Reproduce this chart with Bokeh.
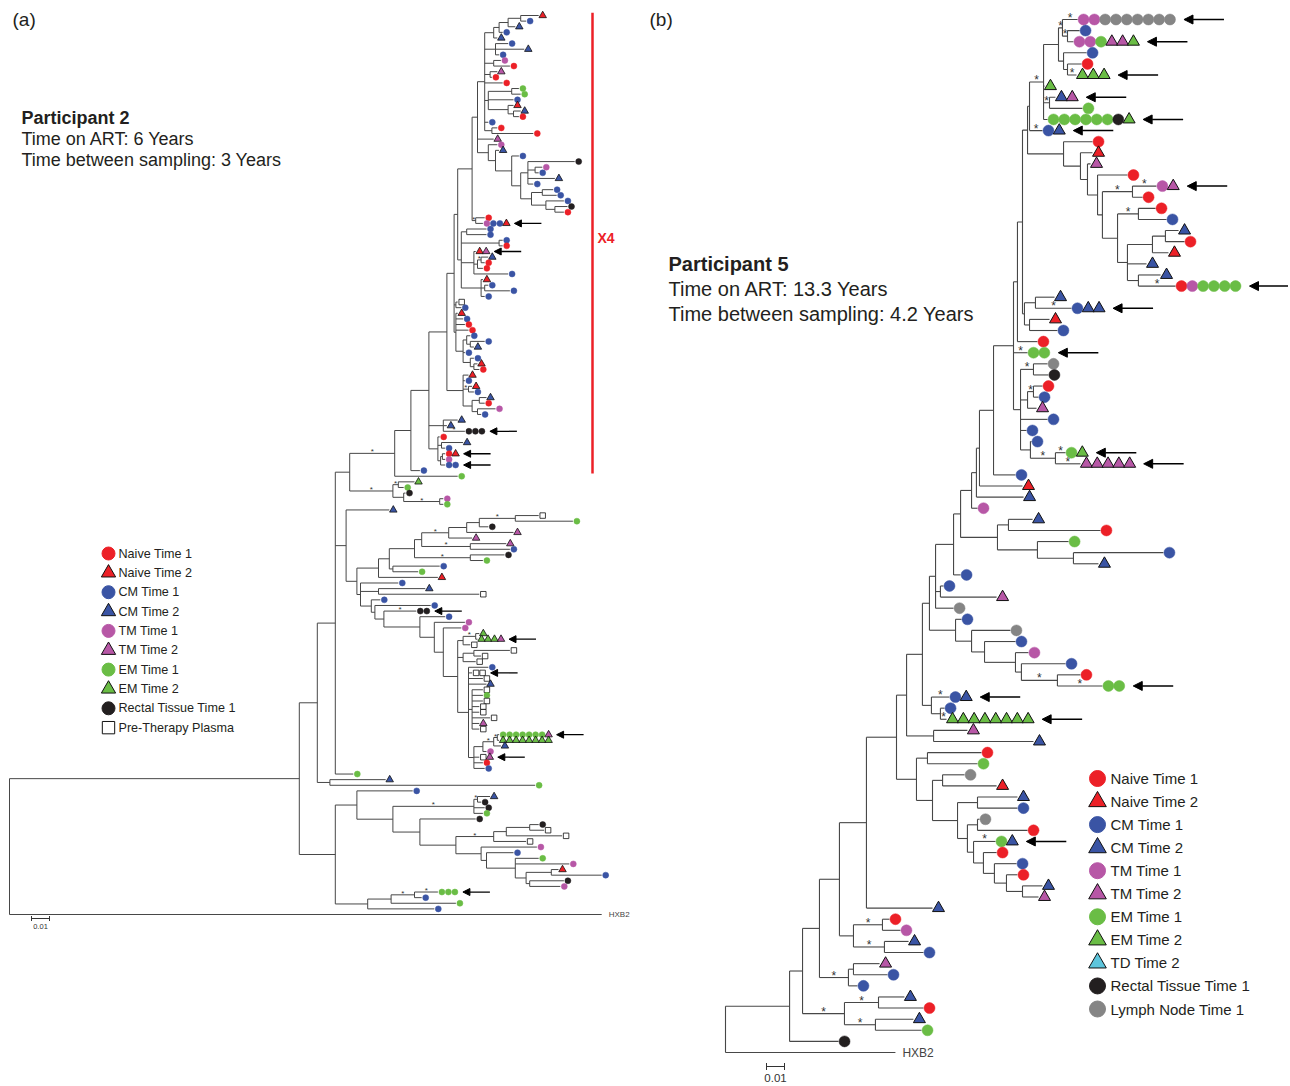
import re
from bokeh.plotting import figure
from bokeh.models import Range1d, Arrow, NormalHead, ColumnDataSource
from bokeh.layouts import row
from bokeh.embed import file_html
from bokeh.resources import INLINE
from bokeh.core.properties import value

FONT = "Liberation Sans"

# ------------------------------------------------------------------ data
CAT_CODES = ["N1", "N2", "C1", "C2", "T1", "T2", "E1", "E2", "D2", "R1", "L1", "P"]
CAT_NAMES = ["Naive Time 1", "Naive Time 2", "CM Time 1", "CM Time 2", "TM Time 1",
             "TM Time 2", "EM Time 1", "EM Time 2", "TD Time 2", "Rectal Tissue Time 1",
             "Lymph Node Time 1", "Pre-Therapy Plasma"]
LEGEND_A = ["N1", "N2", "C1", "C2", "T1", "T2", "E1", "E2", "R1", "P"]
LEGEND_B = ["N1", "N2", "C1", "C2", "T1", "T2", "E1", "E2", "D2", "R1", "L1"]
TITLE_A = ["Participant 2", "Time on ART: 6 Years", "Time between sampling: 3 Years"]
TITLE_B = ["Participant 5", "Time on ART: 13.3 Years", "Time between sampling: 4.2 Years"]
OUTGROUP = "HXB2"
SCALE_BAR = 0.01          # substitutions / site
X4_TIPS = (0, 81)         # first / last tip index of the X4 clade, panel (a)

# Trees: "(child,child):depth" ; tip "CODE[xN][+CODE..]:depth"
# depth = distance from root in 1e-3 substitutions/site ; * = support, ! = arrow
A_Q = ("((((N2:294,C1:287):284,C2:281):277,C1:274):272,C2:271):269,"
       "(C1:277,C2:286,C1:272):270,(T1:273,N1:278):269,(T2:271,N1:268):267,N1:274,"
       "((E1:283,E1:284):279,C1:280,(N2:280,(C2:284,N1:283):280):277):266,C1:266,"
       "(N1:271,N1:291):268")
A_R = ("(T1:271,(C2:272,(C1:283,((R1:314,(T1:296,C1:294):292,C2:303,C1:291):288,"
       "((C1:302,C1:304):296,(C1:308,(R1:310,N1:308):303):298):290):284):279):270):266")
A_470 = f"((({A_Q}):264,T2:269,{A_R}):260,(N1:264,T1+C1x2+N2:263!):259*):257"
A_462 = ("((C1:265,C1:265):254,(C1:274,N1:274):272,"
         "(N2+T2:259!,((C2:266,N1:264):262*,N1:263):260,C1:277):258,"
         "(N2:263,(C1:266,C1:278):264,C1:264):262):251")
A_454 = ("(N2:249,C1:252,N1:253,N1:255,((C1:256,(C1:264,C2:258):256):254,C1:253,"
         "(C1:258,(N2:260,N1:261):258):256):252):248")
A_452 = f"(({A_470},{A_462}):249,(P:249,C1:251):248,{A_454}):247"
A_446 = (f"({A_452},(N2:255,C1:253,(N2:257,C1:258):255*,"
         "((C2:265,N1:264):261,(T1:270,C1:262):260):257):252):243")
A_427 = (f"({A_446},(C2:249,C2:243,R1x3:253!*):241,"
         "(N1:239,(C2:252,C1:242):240,((N1+N2:242!,T1:242):240.5,C1x2:242!):239.5):238):233")
A_348 = (f"((({A_427},C1:228):223,E1:249):214*,"
         "((E2:225,E1:219):216*,(R1:220,(T1:241,E1:241):239*):219):213*):189")
A_477 = "((P:294,E1:313):281*,R1:266):261"
A_377 = (f"(((((({A_477},T2:280):254,T2:257):244*,(T2:276,C1:278):256*):229,"
         "(R1:275,E1:263):256*):225,(C1:239,E1:227):213):211,N2:238):205")
A_PLASMA = "(P:263,E1:263,P:263,P:261,P:261,P:267,T2:261,P:261):257"
A_EM = "((((E1x7+T2:272!,E2x8:272):271*,C2:273):269*,T1:265):263,P+T2:261!,N1:263,C1:264):258"
A_457 = (f"(((E2:261,E2x3+T2:260!):259*,P:256):252,((P:278,P:262):258,P:259):252,"
         f"(C1:266,Px2:257!,P:263,C2:265,{A_PLASMA},{A_EM}):255):249")
A_359 = (f"(C1:216,(C2:231,P:261):205,(C1:206,(C1:234,(R1x2:226!*,(C1:242,"
         f"(T1:253,(T1:251,{A_457}):241):236):228):208):203):201):195")
A_316 = f"(({A_348},(C2:211,({A_377},{A_359}):193):187,E1:191):181,(C2:209,E1:292):178):171"
A_T = ("(C1:224,(((C2:267,R1:262):260*,R1:264,E1:263):258*,(R1:259,"
       "((((R1:294,P:297):289,P:307):276,P:287):269*,(T1:293,(C1:280,(E1:294,T1:311,"
       "((N2:305,C1:329):301,(R1:308,T1:306):289):287):281):265):262):248):228):213):193")
A_U = "(((E1x3:238!*,C1:229):225*,E1:248):212,C1:236):199"
A_TREE = f"(({A_316},({A_T},{A_U}):181):161,HXB2:329):0"

B_1062 = "(T1x2+L1x7:195.6!*,(C1:196.7,T1x2+E1+T2x2+E2:193.3!):190*):187.2*"
B_1063A = "(C1:200.6,(N1:197.8,E2x3:195!*):190):187.8"
B_1043 = (f"(({B_1062},{B_1063A}):185,E2:177.2,(C2+T2:183.3!,E1:198.3):180*,"
          "E1x6+R1+E2:178.9!):176.7*")
B_1029 = f"({B_1043},C1+C2:176.1!*):168.9"
B_1117 = ("((N1:238.9,C1:245):229.4*,(((C2:251.7,N1:255):244.4,N2:246.1):237.2,C2:233.9,"
          "(C2:241.7,N1+T1+E1x4:250!*):229.4):223.3):217.8")
B_1063B = (f"(N1:203.9,(N2:203.9,(T2:202.8,(N1:223.3,((T1+T2:239.4!*,N1:231.7):226.1*,"
           f"{B_1117}):209.4):206.7):201.1):197.2):187.8")
B_1024 = "((C2:182.8,C1+C2x2:192.2!*):172.2,(N2:180,C1:184.4):168.9):166.1"
B_LOW = ("((L1:178.9,R1:179.4):171.1*,((N1:176.1,C1:173.9):171.1*,T2:172.8):167.8,"
         "C1:178.9,C1:167.2,(C1:170,(E1+E2:188.9!*,T2x5:197.2!*):183.3*):169.4):163.9")
B_1013 = f"(((({B_1029},{B_1063B}):167.8,{B_1024}):165,N1:173.3):162.2,E1x2:167.8!*,{B_LOW}):160"
B_997 = "((C2:170.6,N1:208.3):157.2,(E1:190.6,(C1:243.3,C2:207.2):193.3):173.3):151.1"
B_953 = (f"(((((({B_1013},C1:161.1):148.9,N2:165):141.1,C2:165.6):139.4,T1:140):136.7,"
         f"{B_997}):130.6,C1:130.6):126.7")
B_955 = ("(C1:131.1,(L1:158.3,(C1:161.1,(T1:168.3,(C1:188.9,(N1:197.2,E1x2:209.4!*)"
         ":184.4*):164.4):161.1):143.9):136.7):127.8")
B_929 = f"(({B_953},(C1:121.1,T2:150.6):119.4,L1:126.7):116.7,{B_955}):113.3"
B_931 = "(C1+C2:124.4!*,(C1:121.7,E2x8:122.8!*):119.4):114.4"
B_906 = f"(({B_929},{B_931}):109.4,(T2:134.4,C2:171.1):115.6):100.6"
B_916 = ("((N1:142.2,E1:140):112.2,((L1:132.8,N2:150.6):120.6,((C2:162.2,C1:162.2):140,"
         "((L1:141.1,N1:167.8):140,(E1+C2:150!*,(N1:150.6,(C1:161.7,(N1:162.2,"
         "(C2:176.1,T2:173.9):165):156.1):149.4):143.3):137.8):134.4):128.9):115):106.1")
B_839 = (f"((({B_906},{B_916}):95,C2:115):78.3,((N1:91.1,T1:97.2):87.2*,"
         "(C2:101.7,C1:110):88.3*):71.1):63.3")
B_TREE = (f"(((({B_839},((T2:85.6,C1:90):71.1,C1:73.3):68.3*):52.2,((C2:99.4,N1:110):85*,"
          "(C2:104.4,E1:108.9):83.3*):66.1*):42.8,R1:62.8):35.6,HXB2:94.4):0")

# ------------------------------------------------------------------ styles
COLOR = {"N1": "#ec2027", "N2": "#ec2027", "C1": "#3a54a4", "C2": "#3a54a4",
         "T1": "#b757a6", "T2": "#b757a6", "E1": "#6abd45", "E2": "#6abd45",
         "D2": "#5dc5dc", "R1": "#231f20", "L1": "#858585", "P": "#ffffff"}
SHAPE = {c: ("square" if c == "P" else "triangle" if c[1:] == "2" else "circle")
         for c in CAT_CODES}
PXU = 1800.0   # screen px per substitution/site (0.01 -> 18 px)
LINE = "#474747"

GA = dict(left=0, top=0, w=648, h=1084, root=9, tip0=15, tipN=914)
GB = dict(left=648, top=0, w=640, h=1084, root=725, tip0=19, tipN=1052)
STA = dict(gap=4, step=6.5, agap=8, alen=27, head=7, aw=1.3, circle=6, triangle=7.5,
           square=5.5, tlw=0.8, star="8px", stardy=-1.5, lw=1.0, out="8px")
STB = dict(gap=6, step=10.8, agap=14, alen=40, head=9, aw=1.5, circle=11, triangle=12,
           square=10, tlw=1.0, star="12px", stardy=-2, lw=1.1, out="12px")


def parse(s):
    s = re.sub(r"\s+", "", s)
    pos = [0]

    def node():
        if s[pos[0]] == "(":
            pos[0] += 1
            kids = [node()]
            while s[pos[0]] == ",":
                pos[0] += 1
                kids.append(node())
            if s[pos[0]] != ")":
                raise ValueError("bad tree at %d" % pos[0])
            pos[0] += 1
            label = None
        else:
            m = re.match(r"[A-Za-z0-9+]+", s[pos[0]:])
            label = m.group(0)
            pos[0] += len(label)
            kids = []
        if s[pos[0]] != ":":
            raise ValueError("missing depth at %d" % pos[0])
        pos[0] += 1
        m = re.match(r"[0-9.]+", s[pos[0]:])
        depth = float(m.group(0)) / 1000.0
        pos[0] += len(m.group(0))
        star = arrow = False
        while pos[0] < len(s) and s[pos[0]] in "*!":
            if s[pos[0]] == "*":
                star = True
            else:
                arrow = True
            pos[0] += 1
        return dict(kids=kids, label=label, depth=depth, star=star, arrow=arrow)

    tree = node()
    if pos[0] != len(s):
        raise ValueError("unparsed tree text from %d: %s" % (pos[0], s[pos[0]:pos[0] + 40]))
    return tree


def expand(label):
    out = []
    for part in label.split("+"):
        m = re.fullmatch(r"([A-Z]\d?)(?:x(\d+))?", part)
        out += [m.group(1)] * int(m.group(2) or 1)
    return out


def layout(tree):
    H = dict(x0=[], x1=[], y=[])
    V = dict(x=[], y0=[], y1=[])
    tips, stars = [], []

    def walk(n, pd):
        if n["kids"]:
            ys = [walk(k, n["depth"]) for k in n["kids"]]
            y = (ys[0] + ys[-1]) / 2.0
            V["x"].append(n["depth"]); V["y0"].append(ys[0]); V["y1"].append(ys[-1])
        else:
            y = float(len(tips))
            tips.append(n)
        n["y"] = y
        if pd is not None and n["depth"] > pd:
            H["x0"].append(pd); H["x1"].append(n["depth"]); H["y"].append(y)
        if n["star"] and pd is not None:
            stars.append(((pd + n["depth"]) / 2.0, y))
        return y

    walk(tree, None)
    return H, V, tips, stars


def panel(tree_str, g, st):
    tree = parse(tree_str)
    H, V, tips, stars = layout(tree)
    s = (g["tipN"] - g["tip0"]) / (len(tips) - 1)

    def X(px):
        return (px - g["root"]) / PXU

    def Y(py):
        return (py - g["tip0"]) / s

    p = figure(width=g["w"], height=g["h"], output_backend="svg", toolbar_location=None,
               x_range=Range1d(X(g["left"]), X(g["left"] + g["w"])),
               y_range=Range1d(Y(g["top"] + g["h"]), Y(g["top"])),
               x_axis_location=None, y_axis_location=None, min_border=0)
    p.grid.visible = False
    p.outline_line_color = None
    p.background_fill_color = "white"
    p.border_fill_color = "white"

    p.segment(x0=H["x0"], y0=H["y"], x1=H["x1"], y1=H["y"], line_color=LINE, line_width=st["lw"])
    p.segment(x0=V["x"], y0=V["y0"], x1=V["x"], y1=V["y1"], line_color=LINE, line_width=st["lw"])

    m = dict(x=[], y=[], marker=[], size=[], fill=[], line=[], lw=[])
    ar = dict(xs=[], xe=[], y=[])
    for t in tips:
        if t["label"] == OUTGROUP:
            p.text(x=[t["depth"] + 7 / PXU], y=[t["y"]], text=[OUTGROUP], text_font=value(FONT),
                   text_font_size=st["out"], text_baseline="middle", text_color="#444444")
            continue
        codes = expand(t["label"])
        for k, c in enumerate(codes):
            m["x"].append(t["depth"] + (st["gap"] + k * st["step"]) / PXU)
            m["y"].append(t["y"])
            shp = SHAPE[c]
            m["marker"].append(shp)
            m["size"].append(st[shp])
            m["fill"].append(COLOR[c])
            m["line"].append(COLOR[c] if shp == "circle" else "#111111")
            m["lw"].append(0.5 if shp == "circle" else st["tlw"])
        if t["arrow"]:
            xe = t["depth"] + (st["gap"] + (len(codes) - 1) * st["step"] + st["agap"]) / PXU
            ar["xe"].append(xe); ar["xs"].append(xe + st["alen"] / PXU); ar["y"].append(t["y"])
    p.scatter(x="x", y="y", marker="marker", size="size", fill_color="fill", line_color="line",
              line_width="lw", source=ColumnDataSource(m))
    p.add_layout(Arrow(x_start="xs", y_start="y", x_end="xe", y_end="y",
                       source=ColumnDataSource(ar), line_color="black", line_width=st["aw"],
                       end=NormalHead(size=st["head"], fill_color="black", line_color="black")))
    if stars:
        p.text(x=[a for a, b in stars], y=[b for a, b in stars], text=["*"] * len(stars),
               text_font=value(FONT), text_font_size=st["star"], text_align="center",
               text_baseline="middle", y_offset=st["stardy"], text_color="#333333")
    return p, X, Y, tips


def texts(p, X, Y, px, py, lines, size, step=0, bold=False, color="#231f20", align="left"):
    p.text(x=[X(px)] * len(lines), y=[Y(py + i * step) for i in range(len(lines))], text=lines,
           text_font=value(FONT), text_font_size=size, text_baseline="middle",
           text_align=align, text_color=color, text_font_style="bold" if bold else "normal")


def legend(p, X, Y, codes, mx, tx, y0, step, msize, fsize):
    d = dict(x=[], y=[], marker=[], size=[], fill=[], line=[])
    for i, c in enumerate(codes):
        shp = SHAPE[c]
        d["x"].append(X(mx)); d["y"].append(Y(y0 + i * step)); d["marker"].append(shp)
        d["size"].append(msize * (1.1 if shp == "triangle" else 0.95 if shp == "square" else 1.0))
        d["fill"].append(COLOR[c]); d["line"].append(COLOR[c] if shp == "circle" else "#111111")
    p.scatter(x="x", y="y", marker="marker", size="size", fill_color="fill", line_color="line",
              line_width=1.0, source=ColumnDataSource(d))
    names = [CAT_NAMES[CAT_CODES.index(c)] for c in codes]
    texts(p, X, Y, tx, y0, names, fsize, step=step)


def scalebar(p, X, Y, px, py, tick, label_dy, fsize):
    x0 = X(px)
    x1 = x0 + SCALE_BAR
    p.segment(x0=[x0], y0=[Y(py)], x1=[x1], y1=[Y(py)], line_color="#333333", line_width=1)
    p.segment(x0=[x0, x1], y0=[Y(py - tick)] * 2, x1=[x0, x1], y1=[Y(py + tick)] * 2,
              line_color="#333333", line_width=1)
    p.text(x=[(x0 + x1) / 2], y=[Y(py + label_dy)], text=["0.01"], text_font=value(FONT),
           text_font_size=fsize, text_align="center", text_baseline="middle",
           text_color="#333333")


# ---------------- panel (a)
pa, XA, YA, tipsA = panel(A_TREE, GA, STA)
texts(pa, XA, YA, 12, 19, ["(a)"], "19px")
texts(pa, XA, YA, 21, 117, TITLE_A[:1], "18px", bold=True)
texts(pa, XA, YA, 21, 138, TITLE_A[1:], "18px", step=21.5)
legend(pa, XA, YA, LEGEND_A, 108, 118, 553, 19.35, 13, "12.6px")
scalebar(pa, XA, YA, 31, 918, 2.5, 8, "7.5px")
pa.segment(x0=[XA(592)], x1=[XA(592)], y0=[X4_TIPS[0] - 0.5], y1=[X4_TIPS[1] + 0.5],
           line_color="#ec2027", line_width=2.5)
texts(pa, XA, YA, 597, 237, ["X4"], "14px", bold=True, color="#ec2027")

# ---------------- panel (b)
pb, XB, YB, tipsB = panel(B_TREE, GB, STB)
texts(pb, XB, YB, 649, 19, ["(b)"], "19px")
texts(pb, XB, YB, 668, 263, TITLE_B[:1], "20px", bold=True)
texts(pb, XB, YB, 668, 288, TITLE_B[1:], "20px", step=25)
legend(pb, XB, YB, LEGEND_B, 1097, 1110, 778, 23.05, 16, "15px")
scalebar(pb, XB, YB, 766, 1066, 3.5, 11, "11.5px")

layout_row = row(pa, pb)
open("out.html", "w").write(file_html(layout_row, INLINE))
